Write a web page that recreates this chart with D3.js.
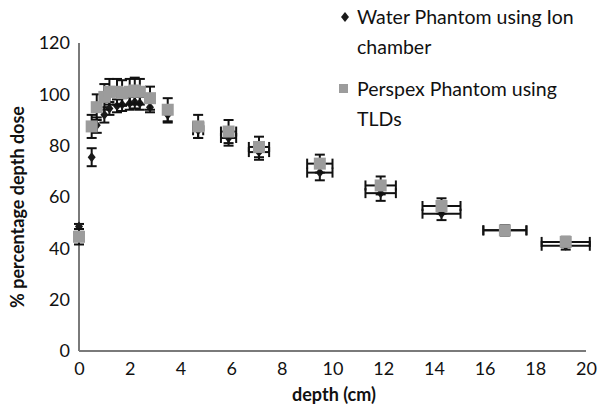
<!DOCTYPE html>
<html><head><meta charset="utf-8">
<script src="https://cdn.jsdelivr.net/npm/d3@7"></script>
<style>body{margin:0;background:#fff}svg{display:block}text{font-family:Lato,"Open Sans",sans-serif}</style>
</head><body><svg id="c" width="598" height="417"></svg>
<script>
const depths    = [0, 0.5, 0.7, 1.0, 1.2, 1.5, 1.7, 2.0, 2.2, 2.4, 2.8, 3.5, 4.7, 5.9, 7.1, 9.5, 11.9, 14.3, 16.8, 19.2];
const waterDose = [48.5, 75.5, 88, 92, 94.5, 95.5, 96, 96.5, 97, 96.5, 95, 92, 86, 83, 77.5, 69.5, 61.5, 53.5, 47, 41];
const waterErr  = [1, 3.5, 3, 3, 2.5, 2.5, 2.5, 2.5, 2.5, 2.5, 2, 3, 3, 3, 3, 3, 3, 2.5, 1, 1.5];
const perspexDose = [44.5, 87.5, 95, 99, 101, 101, 100.5, 101, 101.5, 101, 98.5, 94, 87.5, 85.5, 79.5, 73, 64.5, 56.5, 47, 42.5];
const perspexErr  = [3, 4.5, 5, 5, 5, 5, 5, 5, 5, 5, 4.5, 4.5, 4.5, 4.5, 4, 3.5, 3.5, 3, 2, 2];
const depthErr  = [0, 0, 0, 0, 0, 0, 0, 0, 0, 0, 0, 0, 0.2, 0.3, 0.4, 0.5, 0.6, 0.75, 0.85, 0.95];
const xTicks = [0, 2, 4, 6, 8, 10, 12, 14, 16, 18, 20];
const yTicks = [0, 20, 40, 60, 80, 100, 120];
const seriesNames = ["Water Phantom using Ion chamber", "Perspex Phantom using TLDs"];

const svg = d3.select("#c");
const x = d3.scaleLinear().domain([0, 20]).range([79, 586]);
const y = d3.scaleLinear().domain([0, 120]).range([351, 43]);

// axes
const xAxis = svg.append("g").attr("transform", `translate(0,${y(0)})`)
  .call(d3.axisBottom(x).tickValues(xTicks).tickSize(0).tickPadding(11));
const yAxis = svg.append("g").attr("transform", `translate(${x(0)},0)`)
  .call(d3.axisLeft(y).tickValues(yTicks).tickSize(0).tickPadding(9));
[xAxis, yAxis].forEach(g => {
  g.select(".domain").attr("stroke", "#7a7a7a").attr("stroke-width", 2);
  g.selectAll("text").attr("font-size", 18).attr("fill", "#111").style("font-family", "Lato, sans-serif");
});
xAxis.select(".domain").attr("d", `M${x(0)},0H${x(20)}`);
yAxis.select(".domain").attr("d", `M0,${y(0)}V${y(120)}`);

// labels
svg.append("text").attr("x", 334).attr("y", 401).attr("text-anchor", "middle")
  .attr("font-size", 18).attr("font-weight", "bold").attr("fill", "#111").text("depth (cm)");
svg.append("text").attr("transform", "translate(24,207) rotate(-90)").attr("text-anchor", "middle")
  .attr("font-size", 18).attr("font-weight", "bold").attr("fill", "#111").text("% percentage depth dose");

function drawSeries(vals, errs, cls, drawMarker) {
  const data = depths.map((d, i) => ({d, v: vals[i], e: errs[i], h: depthErr[i]}));
  const g = svg.append("g").attr("class", cls);
  const capW = 5, capH = 5;
  const eb = g.append("g").attr("stroke", "#111").attr("stroke-width", 2).attr("fill", "none");
  data.forEach(p => {
    const cx = x(p.d), cy = y(p.v);
    eb.append("line").attr("x1", cx).attr("x2", cx).attr("y1", y(p.v - p.e)).attr("y2", y(p.v + p.e));
    eb.append("line").attr("x1", cx - capW).attr("x2", cx + capW).attr("y1", y(p.v + p.e)).attr("y2", y(p.v + p.e));
    eb.append("line").attr("x1", cx - capW).attr("x2", cx + capW).attr("y1", y(p.v - p.e)).attr("y2", y(p.v - p.e));
    if (p.h > 0) {
      const x0 = x(p.d - p.h), x1 = x(p.d + p.h);
      eb.append("line").attr("x1", x0).attr("x2", x1).attr("y1", cy).attr("y2", cy);
      eb.append("line").attr("x1", x0).attr("x2", x0).attr("y1", cy - capH).attr("y2", cy + capH);
      eb.append("line").attr("x1", x1).attr("x2", x1).attr("y1", cy - capH).attr("y2", cy + capH);
    }
  });
  data.forEach(p => drawMarker(g, x(p.d), y(p.v)));
}
const diamond = (g, cx, cy) => g.append("path")
  .attr("d", `M${cx},${cy-5}L${cx+4},${cy}L${cx},${cy+5}L${cx-4},${cy}Z`).attr("fill", "#1a1a1a");
const square = (g, cx, cy) => g.append("rect")
  .attr("x", cx - 6).attr("y", cy - 6).attr("width", 12).attr("height", 12).attr("fill", "#9c9c9c");

drawSeries(waterDose, waterErr, "water", diamond);
drawSeries(perspexDose, perspexErr, "perspex", square);

// legend
const leg = svg.append("g");
diamond(leg, 345, 17);
leg.append("rect").attr("x", 339).attr("y", 84).attr("width", 9).attr("height", 9).attr("fill", "#9c9c9c");
const lt = leg.append("g").attr("font-size", 19.5).attr("fill", "#111");
lt.append("text").attr("x", 357).attr("y", 24).text("Water Phantom using Ion");
lt.append("text").attr("x", 357).attr("y", 54).text("chamber");
lt.append("text").attr("x", 357).attr("y", 96).text("Perspex Phantom using");
lt.append("text").attr("x", 357).attr("y", 126).text("TLDs");
</script></body></html>
